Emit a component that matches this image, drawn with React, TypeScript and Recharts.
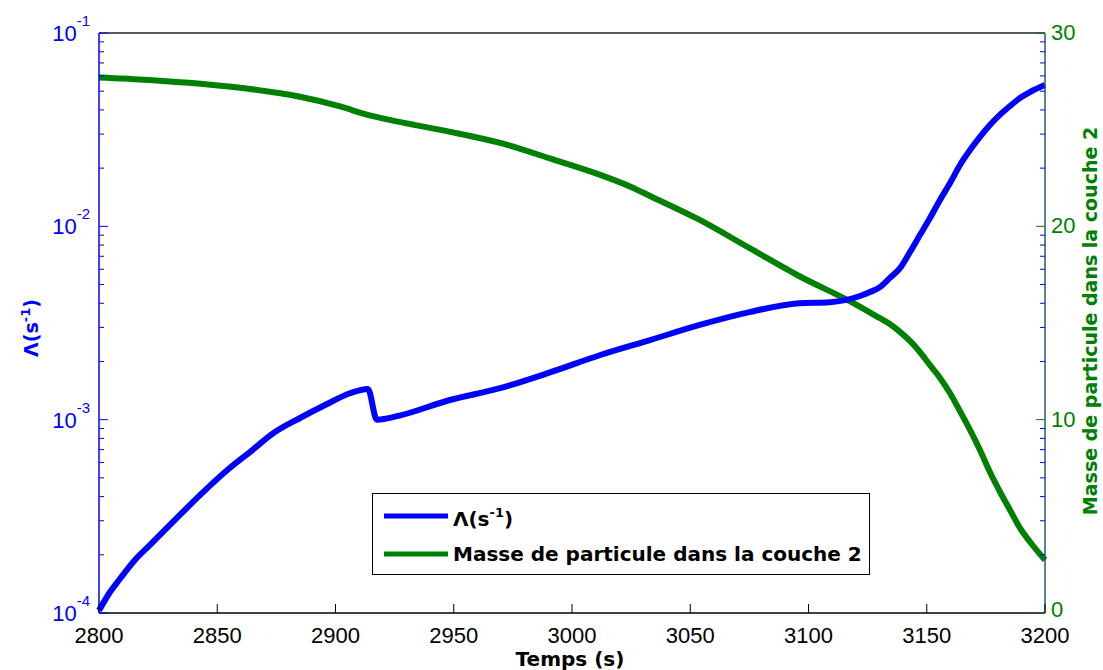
import { LineChart, Line, XAxis, YAxis, Legend, Label } from "recharts";

// Λ (s^-1), log scale, left axis
const lambdaTime = [2800, 2804.6, 2808.8, 2815.2, 2821.6, 2832.1, 2842.7, 2853.3, 2863.8, 2874.4, 2885, 2895.6, 2906.1, 2913.7, 2917.5, 2927, 2948, 2970, 2991, 3012, 3033, 3054, 3075, 3096, 3109, 3121.8, 3126, 3130.2, 3134.4, 3138.7, 3142.9, 3147.1, 3151.3, 3155.6, 3159.8, 3164, 3168.3, 3172.5, 3176.7, 3180.9, 3185.2, 3189.4, 3193.6, 3200];
const lambdaValue = [1.03e-4, 1.28e-4, 1.5e-4, 1.88e-4, 2.25e-4, 3.03e-4, 4.07e-4, 5.36e-4, 6.8e-4, 8.63e-4, 1.02e-3, 1.19e-3, 1.37e-3, 1.44e-3, 1.0e-3, 1.05e-3, 1.26e-3, 1.46e-3, 1.76e-3, 2.16e-3, 2.58e-3, 3.09e-3, 3.6e-3, 4.0e-3, 4.05e-3, 4.36e-3, 4.57e-3, 4.85e-3, 5.41e-3, 6.08e-3, 7.36e-3, 9.01e-3, 1.1e-2, 1.37e-2, 1.67e-2, 2.07e-2, 2.48e-2, 2.9e-2, 3.34e-2, 3.77e-2, 4.19e-2, 4.61e-2, 4.95e-2, 5.38e-2];

// masse de particule dans la couche 2, right axis
const massTime = [2800, 2821, 2843, 2864, 2885, 2902, 2914, 2927, 2948, 2970, 2991, 3012, 3025, 3033, 3054, 3075, 3096, 3118, 3130, 3134.4, 3138.7, 3142.9, 3147.1, 3151.3, 3155.6, 3159.8, 3164, 3168.3, 3172.5, 3176.7, 3181, 3185.2, 3189.4, 3193.7, 3200];
const massValue = [27.7, 27.57, 27.37, 27.1, 26.7, 26.2, 25.75, 25.4, 24.9, 24.3, 23.5, 22.66, 22.04, 21.57, 20.33, 18.88, 17.43, 16.09, 15.26, 14.95, 14.54, 14.07, 13.5, 12.83, 12.16, 11.38, 10.45, 9.47, 8.43, 7.29, 6.26, 5.33, 4.4, 3.67, 2.74];

const timeTicks = [2800, 2850, 2900, 2950, 3000, 3050, 3100, 3150, 3200];
const lambdaMajorTicks = [1e-4, 1e-3, 1e-2, 1e-1];
const massTicks = [0, 10, 20, 30];

const seriesNames = ["Λ(s", "Masse de particule dans la couche 2"];
const BLUE = "#0000ff";
const GREEN = "#008000";

const lambdaData = lambdaTime.map((t, i) => ({ t, v: lambdaValue[i] }));
const massData = massTime.map((t, i) => ({ t, v: massValue[i] }));

// minor log ticks 2..9 in each decade
const lambdaMinorTicks: number[] = [];
for (let d = -4; d < -1; d++) {
  for (let m = 2; m <= 9; m++) lambdaMinorTicks.push(m * Math.pow(10, d));
}
const isMajorLog = (v: number) => Math.abs(Math.log10(v) - Math.round(Math.log10(v))) < 1e-9;
// same positions on the right axis (one decade = 10 units)
const rightMinor = lambdaMinorTicks.map((v) => 10 * (Math.log10(v) + 4));

const tickFont = "'Liberation Sans', Arial, sans-serif";
const titleFont = "'DejaVu Sans', Verdana, sans-serif";

const LeftTick = (props: any) => {
  const { x, y, payload } = props;
  const v = payload.value;
  const major = isMajorLog(v);
  const exp = Math.round(Math.log10(v));
  return (
    <g>
      <line x1={x} x2={x + (major ? 9 : 5)} y1={y} y2={y} stroke={BLUE} strokeWidth={1} />
      {major && (
        <text x={x - 9} y={y + 8} textAnchor="end" fill={BLUE} fontSize={22} fontFamily={tickFont}>
          10
          <tspan dy={-15} fontSize={15}>{exp}</tspan>
        </text>
      )}
    </g>
  );
};

const RightTick = (props: any) => {
  const { x, y, payload } = props;
  const v = payload.value;
  const major = massTicks.includes(v);
  return (
    <g>
      <line x1={x} x2={x - (major ? 9 : 5)} y1={y} y2={y} stroke={major ? GREEN : BLUE} strokeWidth={1} />
      {major && (
        <text x={x + 6} y={y + (v === 0 ? 4 : 7)} textAnchor="start" fill={GREEN} fontSize={22} fontFamily={tickFont}>
          {v}
        </text>
      )}
    </g>
  );
};

const BottomTick = (props: any) => {
  const { x, y, payload } = props;
  return (
    <g>
      <line x1={x} x2={x} y1={y} y2={y - 9} stroke="#000" strokeWidth={1} />
      <text x={x} y={y + 30} textAnchor="middle" fill="#000" fontSize={22} fontFamily={tickFont}>
        {payload.value}
      </text>
    </g>
  );
};

const TopTick = (props: any) => {
  const { x, y } = props;
  return <line x1={x} x2={x} y1={y} y2={y + 9} stroke="#000" strokeWidth={1} />;
};

const LegendBox = () => (
  <div
    style={{
      width: 498,
      height: 82,
      border: "1px solid #000",
      background: "#fff",
      boxSizing: "border-box",
      position: "relative",
    }}
  >
    <svg width={498} height={82} style={{ position: "absolute", left: -1, top: -1 }}>
      <line x1={12} x2={76} y1={23} y2={23} stroke={BLUE} strokeWidth={5} />
      <line x1={12} x2={76} y1={61} y2={61} stroke={GREEN} strokeWidth={5} />
      <text x={81} y={33} fontFamily={titleFont} fontWeight="bold" fontSize={20} fill="#000">
        {seriesNames[0]}
        <tspan dy={-9} fontSize={13}>-1</tspan>
        <tspan dy={9}>)</tspan>
      </text>
      <text x={81} y={68} fontFamily={titleFont} fontWeight="bold" fontSize={20} fill="#000">
        {seriesNames[1]}
      </text>
    </svg>
  </div>
);

export default function App() {
  return (
    <div style={{ position: "absolute", left: 0, top: 0, width: 1103, height: 670, background: "#fff" }}>
      <LineChart width={1103} height={670} margin={{ top: 0, right: 0, left: 0, bottom: 0 }}>
        <XAxis
          xAxisId="bottom"
          dataKey="t"
          type="number"
          domain={[2800, 3200]}
          ticks={timeTicks}
          interval={0}
          height={57}
          tickLine={false}
          tickSize={0}
          tickMargin={0}
          tick={<BottomTick />}
          axisLine={{ stroke: "#000", strokeWidth: 1.5 }}
        >
          <Label
            content={() => (
              <text x={570} y={666} textAnchor="middle" fontFamily={titleFont} fontWeight="bold" fontSize={20} fill="#000">
                Temps (s)
              </text>
            )}
          />
        </XAxis>
        <XAxis
          xAxisId="top"
          orientation="top"
          dataKey="t"
          type="number"
          domain={[2800, 3200]}
          ticks={timeTicks}
          interval={0}
          height={33}
          tickLine={false}
          tickSize={0}
          tickMargin={0}
          tick={<TopTick />}
          axisLine={{ stroke: "#222", strokeWidth: 1.5 }}
        />
        <YAxis
          yAxisId="left"
          orientation="left"
          scale="log"
          type="number"
          domain={[1e-4, 1e-1]}
          allowDataOverflow
          ticks={[...lambdaMajorTicks, ...lambdaMinorTicks]}
          interval={0}
          width={99}
          tickLine={false}
          tickSize={0}
          tickMargin={0}
          tick={<LeftTick />}
          axisLine={{ stroke: BLUE, strokeWidth: 1.5 }}
        >
          <Label
            content={() => (
              <text
                x={38}
                y={328}
                textAnchor="middle"
                transform="rotate(-90 38 328)"
                fontFamily={titleFont}
                fontWeight="bold"
                fontSize={19}
                fill={BLUE}
              >
                Λ(s
                <tspan dy={-8} fontSize={13}>-1</tspan>
                <tspan dy={8}>)</tspan>
              </text>
            )}
          />
        </YAxis>
        <YAxis
          yAxisId="right"
          orientation="right"
          type="number"
          domain={[0, 30]}
          ticks={[...massTicks, ...rightMinor]}
          interval={0}
          width={58}
          tickLine={false}
          tickSize={0}
          tickMargin={0}
          tick={<RightTick />}
          axisLine={{ stroke: "#1f5a7a", strokeWidth: 1.5 }}
        >
          <Label
            content={() => (
              <text
                x={1097}
                y={321}
                textAnchor="middle"
                transform="rotate(-90 1097 321)"
                fontFamily={titleFont}
                fontWeight="bold"
                fontSize={19}
                fill={GREEN}
              >
                Masse de particule dans la couche 2
              </text>
            )}
          />
        </YAxis>
        <Line
          xAxisId="bottom"
          yAxisId="right"
          data={massData}
          dataKey="v"
          name={seriesNames[1]}
          type="monotone"
          stroke={GREEN}
          strokeWidth={6}
          dot={false}
          isAnimationActive={false}
        />
        <Line
          xAxisId="bottom"
          yAxisId="left"
          data={lambdaData}
          dataKey="v"
          name={seriesNames[0]}
          type="monotone"
          stroke={BLUE}
          strokeWidth={6}
          dot={false}
          isAnimationActive={false}
        />
        <Legend
          layout="horizontal"
          verticalAlign="middle"
          align="center"
          content={() => <LegendBox />}
          wrapperStyle={{ left: 372, top: 493, width: 498, height: 82 }}
        />
      </LineChart>
    </div>
  );
}
